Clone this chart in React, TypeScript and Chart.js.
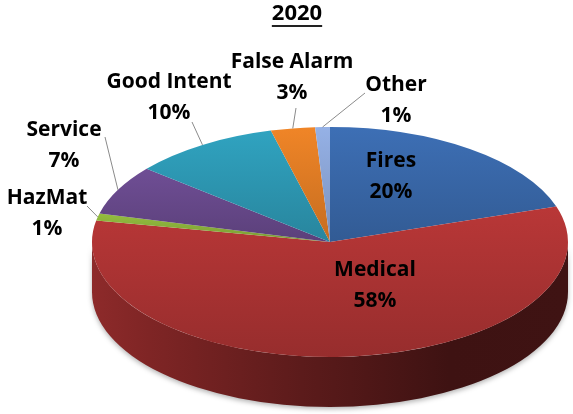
import React, { useEffect, useRef } from "react";
import { Chart, registerables } from "chart.js";

Chart.register(...registerables);

// ---- data ----
const titleText = "2020";
const categories = ["Fires", "Medical", "HazMat", "Service", "Good Intent", "False Alarm", "Other"];
const values = [20, 58, 1, 7, 10, 3, 1];
const baseColors = ["#3a6aac", "#b03434", "#8db43c", "#6a4a8e", "#2e9bb7", "#e57f25", "#8ea9db"];

// ---- layout / style (not data) ----
const W = 573;
const H = 414;
const CX = 330;
const CY = 242;
const RX = 238;
const RY = 115;
const DEPTH = 50;
const FONT = '"Open Sans", "DejaVu Sans", sans-serif';
const LINE_GAP = 31;

// label centers (first line) and leader-line start points
const labelLayout: { x: number; y: number; lx?: number; ly?: number }[] = [
  { x: 391, y: 161 },
  { x: 375, y: 270 },
  { x: 47, y: 198, lx: 87, ly: 206 },
  { x: 64, y: 130, lx: 105, ly: 137 },
  { x: 169, y: 82, lx: 192, ly: 122 },
  { x: 292, y: 62, lx: 296, ly: 108 },
  { x: 396, y: 85, lx: 365, ly: 93 },
];

function shade(hex: string, f: number): string {
  const n = parseInt(hex.slice(1), 16);
  const r = Math.min(255, Math.round(((n >> 16) & 255) * f));
  const g = Math.min(255, Math.round(((n >> 8) & 255) * f));
  const b = Math.min(255, Math.round((n & 255) * f));
  return "rgb(" + r + "," + g + "," + b + ")";
}

const total = values.reduce((a, b) => a + b, 0);
const percentText = values.map((v) => Math.round((v / total) * 100) + "%");

// vertical extent (in units of radius) of each slice's top face
function sliceSpan(i: number): [number, number] {
  let before = 0;
  for (let k = 0; k < i; k++) before += values[k];
  const s = -Math.PI / 2 + (before / total) * Math.PI * 2;
  const e = s + (values[i] / total) * Math.PI * 2;
  const ys = [0, Math.sin(s), Math.sin(e)];
  for (const t of [-Math.PI / 2, Math.PI / 2, (3 * Math.PI) / 2]) {
    if (t > s && t < e) ys.push(Math.sin(t));
  }
  return [Math.min(...ys), Math.max(...ys)];
}

const pie3d = {
  id: "pie3d",
  beforeDatasetsDraw(chart: any) {
    const ctx: CanvasRenderingContext2D = chart.ctx;
    const meta = chart.getDatasetMeta(0);
    if (!meta.data.length) return;
    const first = meta.data[0].getProps(["x", "y", "outerRadius"], true);
    const sx = RX / first.outerRadius;
    // side walls
    meta.data.forEach((arc: any, i: number) => {
      const p = arc.getProps(["x", "y", "startAngle", "endAngle", "outerRadius"], true);
      const a = Math.max(p.startAngle, 0);
      const b = Math.min(p.endAngle, Math.PI);
      if (b <= a) return;
      const rx = p.outerRadius * sx;
      const ry = p.outerRadius;
      const base = baseColors[i];
      const g = ctx.createLinearGradient(p.x - rx, 0, p.x + rx, 0);
      g.addColorStop(0, shade(base, 0.8));
      g.addColorStop(0.12, shade(base, 0.72));
      g.addColorStop(0.44, shade(base, 0.52));
      g.addColorStop(0.75, shade(base, 0.35));
      g.addColorStop(1, shade(base, 0.36));
      ctx.save();
      ctx.shadowColor = "rgba(0,0,0,0.3)";
      ctx.shadowBlur = 5;
      ctx.shadowOffsetY = 2;
      ctx.beginPath();
      ctx.ellipse(p.x, p.y, rx, ry, 0, a, b, false);
      ctx.ellipse(p.x, p.y + DEPTH, rx, ry, 0, b, a, true);
      ctx.closePath();
      ctx.fillStyle = g;
      ctx.fill();
      ctx.restore();
    });
    // squash: stretch virtual circle horizontally into the ellipse
    ctx.save();
    ctx.translate(first.x, 0);
    ctx.scale(sx, 1);
    ctx.translate(-first.x, 0);
  },
  afterDatasetsDraw(chart: any) {
    const ctx: CanvasRenderingContext2D = chart.ctx;
    ctx.restore();
    const meta = chart.getDatasetMeta(0);
    if (!meta.data.length) return;
    const first = meta.data[0].getProps(["outerRadius"], true);
    const sx = RX / first.outerRadius;

    // title
    ctx.save();
    ctx.fillStyle = "#000";
    ctx.font = "bold 22px " + FONT;
    ctx.textAlign = "center";
    ctx.textBaseline = "middle";
    ctx.fillText(titleText, 297, 14);
    const tw = ctx.measureText(titleText).width;
    ctx.fillStyle = "#222";
    ctx.fillRect(297 - tw / 2, 25, tw, 2);
    ctx.restore();

    meta.data.forEach((arc: any, i: number) => {
      const p = arc.getProps(["x", "y", "startAngle", "endAngle", "outerRadius"], true);
      const L = labelLayout[i];
      if (L.lx !== undefined && L.ly !== undefined) {
        const m = (p.startAngle + p.endAngle) / 2;
        const ex = p.x + p.outerRadius * sx * Math.cos(m);
        const ey = p.y + p.outerRadius * Math.sin(m);
        ctx.save();
        ctx.strokeStyle = "#8a8a8a";
        ctx.lineWidth = 1;
        ctx.beginPath();
        ctx.moveTo(L.lx, L.ly);
        ctx.lineTo(ex, ey);
        ctx.stroke();
        ctx.restore();
      }
      ctx.save();
      ctx.fillStyle = "#000";
      ctx.font = "bold 21px " + FONT;
      ctx.textAlign = "center";
      ctx.textBaseline = "middle";
      ctx.fillText(categories[i], L.x, L.y);
      ctx.fillText(percentText[i], L.x, L.y + LINE_GAP);
      ctx.restore();
    });
  },
};

export default function App() {
  const ref = useRef<HTMLCanvasElement>(null);
  useEffect(() => {
    if (!ref.current) return;
    const chart = new Chart(ref.current, {
      type: "pie",
      data: {
        labels: categories,
        datasets: [
          {
            data: values,
            radius: RY,
            borderWidth: 0,
            clip: false,
            backgroundColor: (c: any) => {
              if (c.type !== "data") return baseColors[0];
              const base = baseColors[c.dataIndex];
              const area = c.chart.chartArea;
              if (!area) return base;
              const cy = (area.top + area.bottom) / 2;
              const [y0, y1] = sliceSpan(c.dataIndex);
              const g = c.chart.ctx.createLinearGradient(0, cy + y0 * RY, 0, cy + y1 * RY + 0.01);
              g.addColorStop(0, shade(base, 1.05));
              g.addColorStop(1, shade(base, 0.86));
              return g;
            },
          } as any,
        ],
      },
      options: {
        animation: false,
        responsive: false,
        events: [],
        layout: { padding: { left: 2 * CX - W, top: 2 * CY - H, right: 0, bottom: 0 } },
        plugins: {
          legend: { display: false },
          title: { display: false },
          tooltip: { enabled: false },
        },
      },
      plugins: [pie3d],
    });
    let alive = true;
    if ((document as any).fonts && (document as any).fonts.load) {
      (document as any).fonts.load('bold 21px "Open Sans"').then(() => {
        if (alive) chart.draw();
      }, () => {});
    }
    return () => {
      alive = false;
      chart.destroy();
    };
  }, []);
  return (
    <div style={{ position: "absolute", left: 0, top: 0, width: W, height: H, background: "#fff" }}>
      <canvas ref={ref} width={W} height={H} style={{ display: "block", width: W, height: H }} />
    </div>
  );
}
